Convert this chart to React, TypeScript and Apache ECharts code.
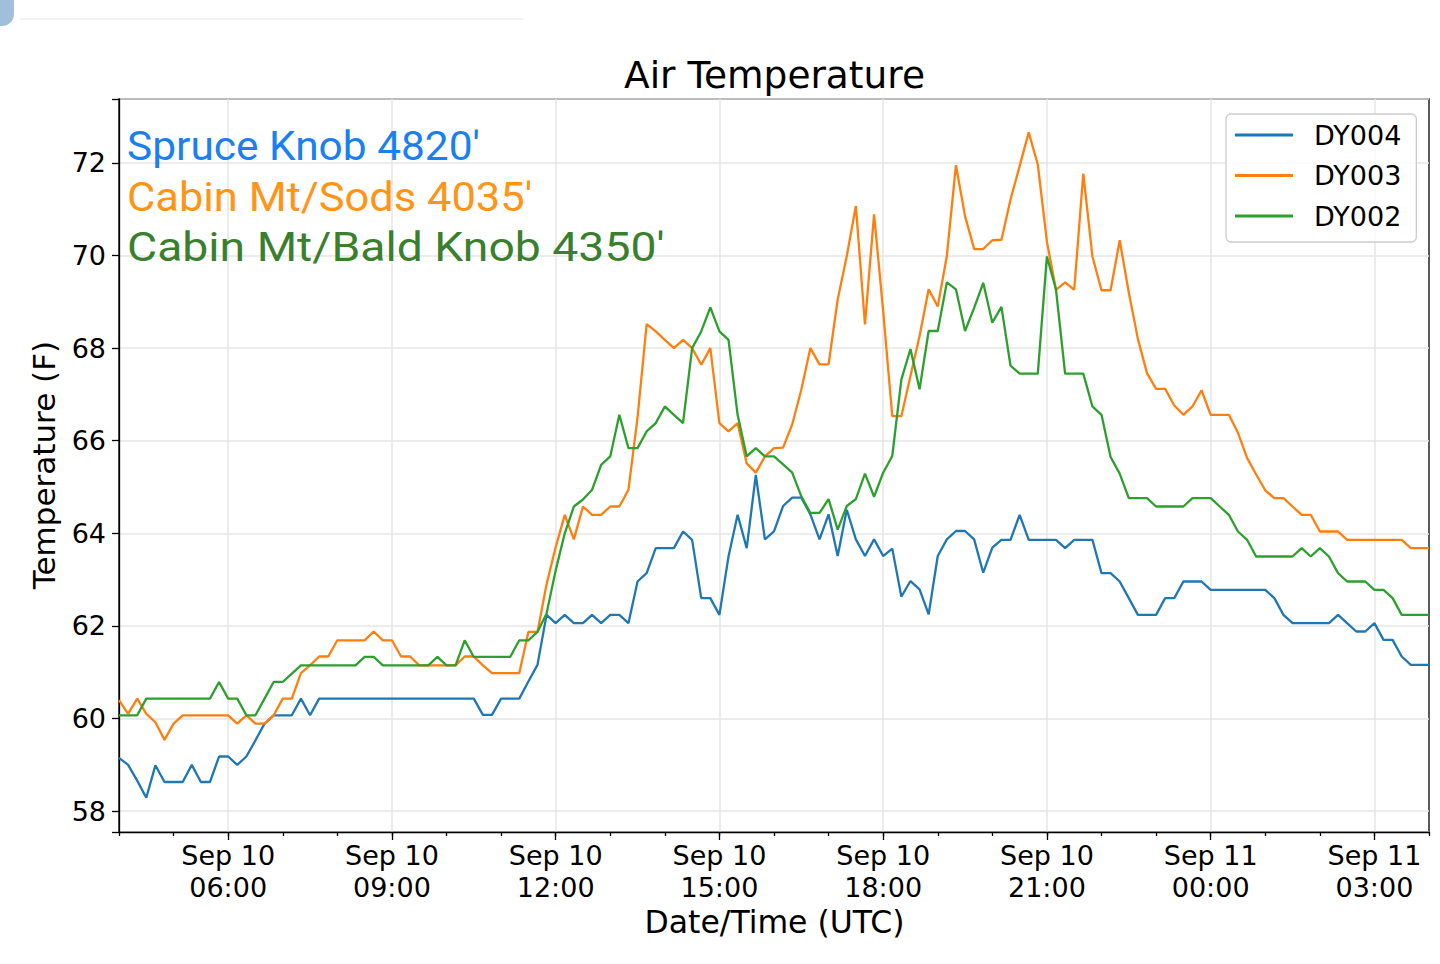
import React, { useEffect, useRef } from 'react';
import * as echarts from 'echarts';

// Sep 10 04:00 UTC to Sep 11 04:00 UTC, 10-minute observations
const START_MIN = 4 * 60;
const STEP_MIN = 10;
const N_POINTS = 145;
const times: string[] = Array.from({ length: N_POINTS }, (_, i) => {
  const t = START_MIN + i * STEP_MIN;
  const day = 10 + Math.floor(t / 1440);
  const h = Math.floor((t % 1440) / 60);
  const m = t % 60;
  return `Sep ${day} ${String(h).padStart(2, '0')}:${String(m).padStart(2, '0')}`;
});

const seriesNames = ['DY004', 'DY003', 'DY002'];
const seriesColors = ['#1f77b4', '#ff7f0e', '#2ca02c'];

const dy004 = [
  59.15, 59.0, 58.66, 58.29, 58.99, 58.63, 58.63, 58.63, 59.0, 58.63,
  58.63, 59.18, 59.18, 59.0, 59.18, 59.53, 59.89, 60.07, 60.07, 60.07,
  60.43, 60.07, 60.43, 60.43, 60.43, 60.43, 60.43, 60.43, 60.43, 60.43,
  60.43, 60.43, 60.43, 60.43, 60.43, 60.43, 60.43, 60.43, 60.43, 60.43,
  60.08, 60.08, 60.43, 60.43, 60.43, 60.8, 61.16, 62.24, 62.06, 62.24,
  62.06, 62.06, 62.24, 62.06, 62.24, 62.24, 62.06, 62.96, 63.14, 63.68,
  63.68, 63.68, 64.04, 63.86, 62.6, 62.6, 62.24, 63.5, 64.4, 63.68,
  65.26, 63.87, 64.04, 64.59, 64.77, 64.77, 64.41, 63.87, 64.41, 63.51,
  64.51, 63.87, 63.51, 63.87, 63.51, 63.67, 62.63, 62.97, 62.79, 62.25,
  63.51, 63.87, 64.05, 64.05, 63.87, 63.15, 63.69, 63.86, 63.86, 64.4,
  63.86, 63.86, 63.86, 63.86, 63.68, 63.86, 63.86, 63.86, 63.14, 63.14,
  62.96, 62.6, 62.24, 62.24, 62.24, 62.6, 62.6, 62.96, 62.96, 62.96,
  62.78, 62.78, 62.78, 62.78, 62.78, 62.78, 62.78, 62.6, 62.24, 62.06,
  62.06, 62.06, 62.06, 62.06, 62.24, 62.06, 61.88, 61.88, 62.06, 61.7,
  61.7, 61.34, 61.16, 61.16, 61.16,
];

const dy003 = [
  60.4, 60.1, 60.43, 60.1, 59.92, 59.54, 59.89, 60.07, 60.07, 60.07,
  60.07, 60.07, 60.07, 59.89, 60.07, 59.89, 59.89, 60.07, 60.43, 60.43,
  60.98, 61.15, 61.34, 61.34, 61.69, 61.69, 61.69, 61.69, 61.88, 61.69,
  61.69, 61.34, 61.34, 61.15, 61.15, 61.15, 61.15, 61.15, 61.34, 61.34,
  61.15, 60.98, 60.98, 60.98, 60.98, 61.87, 61.87, 62.9, 63.7, 64.4,
  63.87, 64.58, 64.4, 64.4, 64.58, 64.58, 64.94, 66.5, 68.52, 68.36,
  68.18, 68.0, 68.18, 68.0, 67.64, 68.0, 66.38, 66.2, 66.38, 65.51,
  65.31, 65.66, 65.84, 65.85, 66.35, 67.1, 68.0, 67.65, 67.65, 69.05,
  69.99, 71.07, 68.51, 70.89, 68.8, 66.53, 66.53, 67.4, 68.26, 69.27,
  68.9, 69.99, 71.95, 70.85, 70.14, 70.14, 70.33, 70.34, 71.21, 71.93,
  72.66, 71.96, 70.3, 69.26, 69.42, 69.26, 71.77, 69.98, 69.25, 69.25,
  70.33, 69.2, 68.2, 67.46, 67.12, 67.12, 66.76, 66.56, 66.74, 67.09,
  66.56, 66.56, 66.56, 66.17, 65.63, 65.27, 64.93, 64.76, 64.76, 64.58,
  64.4, 64.4, 64.04, 64.04, 64.04, 63.86, 63.86, 63.86, 63.86, 63.86,
  63.86, 63.86, 63.68, 63.68, 63.68,
];

const dy002 = [
  60.07, 60.07, 60.07, 60.43, 60.43, 60.43, 60.43, 60.43, 60.43, 60.43,
  60.43, 60.79, 60.43, 60.43, 60.07, 60.07, 60.43, 60.79, 60.79, 60.97,
  61.15, 61.15, 61.15, 61.15, 61.15, 61.15, 61.15, 61.33, 61.33, 61.15,
  61.15, 61.15, 61.15, 61.15, 61.15, 61.33, 61.15, 61.15, 61.69, 61.33,
  61.33, 61.33, 61.33, 61.33, 61.69, 61.69, 61.87, 62.27, 63.2, 64.0,
  64.58, 64.73, 64.94, 65.48, 65.66, 66.56, 65.84, 65.84, 66.2, 66.38,
  66.74, 66.56, 66.38, 68.0, 68.36, 68.88, 68.36, 68.18, 66.56, 65.66,
  65.84, 65.66, 65.66, 65.49, 65.31, 64.8, 64.44, 64.44, 64.74, 64.08,
  64.59, 64.74, 65.29, 64.79, 65.31, 65.67, 67.32, 67.98, 67.11, 68.37,
  68.37, 69.42, 69.27, 68.37, 68.87, 69.41, 68.55, 68.89, 67.62, 67.45,
  67.45, 67.45, 69.98, 69.26, 67.45, 67.45, 67.45, 66.74, 66.56, 65.65,
  65.29, 64.76, 64.76, 64.76, 64.58, 64.58, 64.58, 64.58, 64.76, 64.76,
  64.76, 64.58, 64.4, 64.04, 63.86, 63.5, 63.5, 63.5, 63.5, 63.5,
  63.68, 63.5, 63.68, 63.5, 63.14, 62.96, 62.96, 62.96, 62.78, 62.78,
  62.6, 62.24, 62.24, 62.24, 62.24,
];

const Y_MIN = 57.55;
const Y_MAX = 73.38;

const annotations = [
  { text: "Spruce Knob 4820'", color: '#1a7ff2', stretch: 1.035 },
  { text: "Cabin Mt/Sods 4035'", color: '#ff9416', stretch: 1.06 },
  { text: "Cabin Mt/Bald Knob 4350'", color: '#3a7f2d', stretch: 1.13 },
];

const FONT = 'DejaVu Sans';
const isMajor = (i: number) => i % 18 === 12; // every 3 hours from 06:00
const isHour = (i: number) => i % 6 === 0;

export default function App() {
  const ref = useRef<HTMLDivElement>(null);

  useEffect(() => {
    if (!ref.current) return;
    const chart = echarts.init(ref.current, null, { renderer: 'svg' });
    const data = [dy004, dy003, dy002];

    const option: any = {
      animation: false,
      backgroundColor: '#ffffff',
      grid: {
        left: 119,
        right: 11,
        top: 99,
        bottom: 132,
        show: true,
        borderColor: '#000',
        borderWidth: 1.3,
        backgroundColor: '#fff',
      },
      xAxis: [
        {
          type: 'category',
          data: times,
          boundaryGap: false,
          axisLine: { show: true, onZero: false, lineStyle: { color: '#000', width: 1.3 } },
          axisTick: { show: true, interval: (i: number) => isHour(i), length: 4, lineStyle: { color: '#000', width: 1.3 } },
          axisLabel: { show: false },
          splitLine: { show: false },
        },
        {
          type: 'category',
          data: times,
          boundaryGap: false,
          position: 'bottom',
          axisLine: { show: false, onZero: false },
          axisTick: { show: true, interval: (i: number) => isMajor(i), length: 8, lineStyle: { color: '#000', width: 1.3 } },
          axisLabel: {
            show: true,
            interval: (i: number) => isMajor(i),
            formatter: (v: string) => v.replace(/ (\d\d:\d\d)$/, '\n$1'),
            fontSize: 27,
            fontFamily: FONT,
            color: '#000',
            lineHeight: 32,
            margin: 7,
          },
          splitLine: { show: true, interval: (i: number) => isMajor(i), lineStyle: { color: '#e6e6e6', width: 1.5 } },
        },
      ],
      yAxis: {
        type: 'value',
        min: Y_MIN,
        max: Y_MAX,
        minInterval: 2,
        maxInterval: 2,
        axisLine: { show: true, lineStyle: { color: '#000', width: 1.3 } },
        axisTick: { show: true, length: 7, lineStyle: { color: '#000', width: 1.3 } },
        axisLabel: {
          formatter: (v: number) => {
            const r = Math.round(v);
            return Math.abs(v - r) < 1e-6 && r % 2 === 0 ? String(r) : '';
          },
          fontSize: 27,
          fontFamily: FONT,
          color: '#000',
          margin: 13,
        },
        splitLine: { show: true, lineStyle: { color: '#e6e6e6', width: 1.5 } },
      },
      legend: {
        orient: 'vertical',
        left: 1226,
        top: 114,
        data: seriesNames,
        icon: 'rect',
        itemWidth: 58,
        itemHeight: 3,
        itemGap: 13.5,
        padding: [7.5, 15, 12.5, 9],
        borderColor: '#cccccc',
        borderWidth: 1.3,
        borderRadius: 5,
        backgroundColor: 'rgba(255,255,255,0.85)',
        textStyle: { fontSize: 27, fontFamily: FONT, color: '#000', padding: [0, 0, 0, 16] },
      },
      series: seriesNames.map((name, k) => ({
        name,
        type: 'line',
        data: data[k],
        xAxisIndex: 0,
        yAxisIndex: 0,
        showSymbol: false,
        symbol: 'none',
        color: seriesColors[k],
        lineStyle: { color: seriesColors[k], width: 2.3 },
        z: 2 + k,
      })),
      graphic: [
        { type: 'rect', shape: { x: -14, y: -14, width: 28, height: 40, r: 12 }, style: { fill: '#a1bedb' } },
        { type: 'line', shape: { x1: 20, y1: 19, x2: 524, y2: 19 }, style: { stroke: '#e8e8e8', lineWidth: 1.2 } },
        {
          type: 'text', x: 774.5, y: 75,
          style: { text: 'Air Temperature', fontSize: 37.5, fontFamily: FONT, fill: '#000', textAlign: 'center', textVerticalAlign: 'middle' },
        },
        {
          type: 'text', x: 774.5, y: 922,
          style: { text: 'Date/Time (UTC)', fontSize: 31.5, fontFamily: FONT, fill: '#000', textAlign: 'center', textVerticalAlign: 'middle' },
        },
        {
          type: 'text', x: 44, y: 465, rotation: Math.PI / 2,
          style: { text: 'Temperature (F)', fontSize: 31, fontFamily: FONT, fill: '#000', textAlign: 'center', textVerticalAlign: 'middle' },
        },
        ...annotations.map((a, k) => ({
          type: 'text', x: 127, y: 146 + k * 50.5, z: 10, scaleX: a.stretch,
          style: { text: a.text, fontSize: 41, fontFamily: 'Roboto', fill: a.color, textAlign: 'left', textVerticalAlign: 'middle' },
        })),
      ],
    };

    chart.setOption(option);
    return () => chart.dispose();
  }, []);

  return (
    <div
      ref={ref}
      style={{ position: 'absolute', left: 0, top: 0, width: 1440, height: 964, background: '#fff' }}
    />
  );
}
